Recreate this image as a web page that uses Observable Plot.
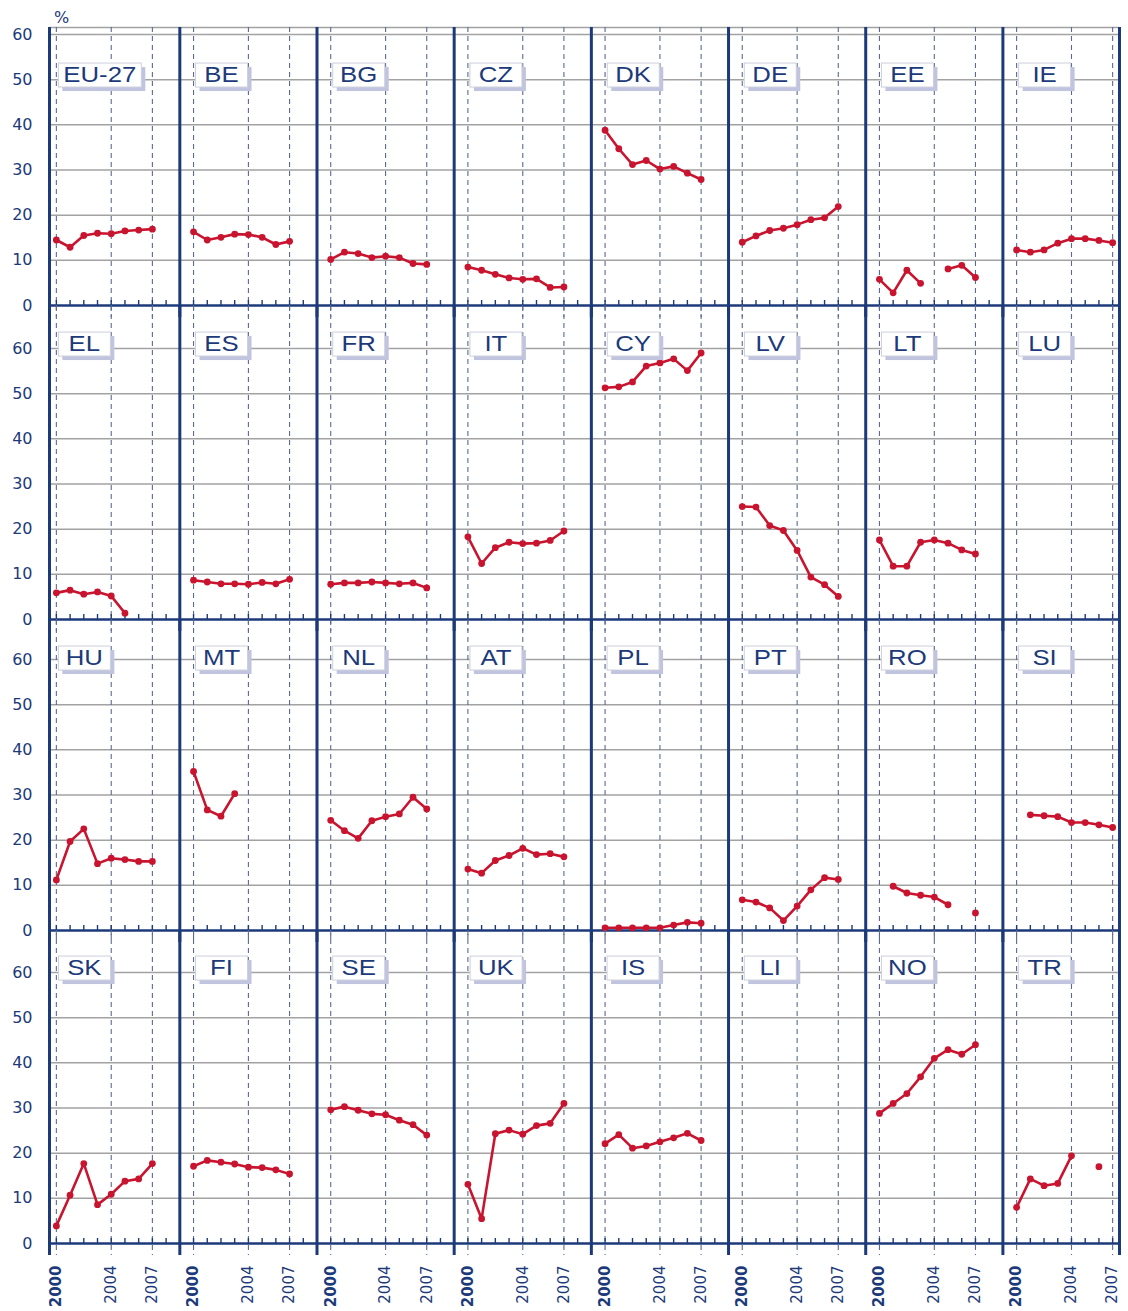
<!DOCTYPE html>
<html>
<head>
<meta charset="utf-8">
<script src="https://cdn.jsdelivr.net/npm/d3@7"></script>
<script src="https://cdn.jsdelivr.net/npm/@observablehq/plot@0.6"></script>
<style>
  html, body { margin: 0; padding: 0; background: #fff; overflow: hidden; }
  #chart { position: relative; width: 1128px; height: 1311px; overflow: hidden; background: #fff; }
  #chart svg { display: block; overflow: visible; background: transparent; }
</style>
</head>
<body>
<div id="chart"></div>
<script>
// ---------------- data ----------------
const years = [2000, 2001, 2002, 2003, 2004, 2005, 2006, 2007];
const axisYears = [2000, 2004, 2007];
const tickYears = [2000, 2001, 2002, 2003, 2004, 2005, 2006, 2007, 2008];
const yTicks = [0, 10, 20, 30, 40, 50, 60];
const gridValues = [10, 20, 30, 40, 50, 60];

const rowCountries = [
  ["EU-27", "BE", "BG", "CZ", "DK", "DE", "EE", "IE"],
  ["EL", "ES", "FR", "IT", "CY", "LV", "LT", "LU"],
  ["HU", "MT", "NL", "AT", "PL", "PT", "RO", "SI"],
  ["SK", "FI", "SE", "UK", "IS", "LI", "NO", "TR"]
];

const EU27 = [14.5, 12.9, 15.5, 16.0, 15.9, 16.5, 16.7, 16.9];
const BE   = [16.3, 14.5, 15.1, 15.8, 15.7, 15.1, 13.5, 14.2];
const BG   = [10.2, 11.8, 11.5, 10.6, 10.9, 10.6, 9.3, 9.1];
const CZ   = [8.5, 7.8, 6.9, 6.1, 5.8, 5.9, 4.0, 4.1];
const DK   = [38.8, 34.7, 31.2, 32.1, 30.2, 30.8, 29.3, 27.9];
const DE   = [14.0, 15.4, 16.6, 17.1, 17.9, 19.0, 19.4, 21.9];
const EE   = [5.8, 2.8, 7.8, 4.9, null, 8.1, 8.9, 6.2];
const IE   = [12.3, 11.8, 12.3, 13.8, 14.8, 14.8, 14.4, 13.9];
const EL   = [5.9, 6.5, 5.6, 6.1, 5.2, 1.4, null, null];
const ES   = [8.7, 8.3, 7.9, 7.9, 7.8, 8.2, 7.9, 8.9];
const FR   = [7.8, 8.1, 8.1, 8.3, 8.1, 7.9, 8.1, 7.0];
const IT   = [18.3, 12.4, 15.9, 17.1, 16.8, 16.9, 17.5, 19.6];
const CY   = [51.3, 51.5, 52.6, 56.1, 56.8, 57.7, 55.1, 59.0];
const LV   = [25.0, 24.9, 20.8, 19.7, 15.3, 9.4, 7.7, 5.1];
const LT   = [17.6, 11.8, 11.8, 17.1, 17.6, 16.9, 15.4, 14.5];
const LU   = [null, null, null, null, null, null, null, null];
const HU   = [11.2, 19.7, 22.5, 14.8, 16.0, 15.7, 15.3, 15.3];
const MT   = [35.2, 26.7, 25.3, 30.3, null, null, null, null];
const NL   = [24.4, 22.1, 20.4, 24.3, 25.2, 25.8, 29.5, 26.9];
const AT   = [13.6, 12.7, 15.5, 16.6, 18.2, 16.8, 17.0, 16.3];
const PL   = [0.6, 0.6, 0.6, 0.6, 0.6, 1.2, 1.8, 1.6];
const PT   = [6.8, 6.3, 5.0, 2.2, 5.4, 9.0, 11.7, 11.3];
const RO   = [null, 9.8, 8.3, 7.8, 7.4, 5.7, null, 3.9];
const SI   = [null, 25.6, 25.4, 25.2, 23.9, 23.9, 23.4, 22.8];
const SK   = [3.9, 10.7, 17.7, 8.6, 10.9, 13.8, 14.3, 17.7];
const FI   = [17.1, 18.4, 18.0, 17.6, 16.9, 16.8, 16.3, 15.4];
const SE   = [29.6, 30.3, 29.5, 28.7, 28.5, 27.3, 26.3, 24.0];
const UK   = [13.1, 5.5, 24.3, 25.1, 24.2, 26.1, 26.6, 31.0];
const IS   = [22.1, 24.1, 21.1, 21.6, 22.5, 23.4, 24.4, 22.8];
const LI   = [null, null, null, null, null, null, null, null];
const NO   = [28.8, 31.0, 33.2, 36.9, 41.0, 42.9, 41.9, 44.0];
const TR   = [8.0, 14.3, 12.8, 13.3, 19.4, null, 17.0, null];

const rowSeries = [
  [EU27, BE, BG, CZ, DK, DE, EE, IE],
  [EL, ES, FR, IT, CY, LV, LT, LU],
  [HU, MT, NL, AT, PL, PT, RO, SI],
  [SK, FI, SE, UK, IS, LI, NO, TR]
];

// ---------------- layout / style ----------------
const navy = "#1c3a7a";
const red = "#c9142f";
const gridGray = "#a2a2a2";
const dashColor = "#5b6a93";
const W = 1128;
const mLeft = 49, mRight = 9;
const pxPerUnit = 4.517;
// each panel spans 10 x-units (one per year, 1999..2009); the outer frame is cropped half a year in
const xDomain = [0.5, 78.5];
const panelX = (panel, year) => panel * 10 + (year - 1999);
const panels = [0, 1, 2, 3, 4, 5, 6, 7];

const rowLayout = [
  {top: 27, bottom: 305, mt: 27, mb: 0, labelDy: 47},
  {top: 305, bottom: 619, mt: 0, mb: 0, labelDy: 38},
  {top: 619, bottom: 930, mt: 0, mb: 0, labelDy: 38},
  {top: 930, bottom: 1243, mt: 0, mb: 68, labelDy: 37}
];

const dashX = panels.flatMap(k => axisYears.map(y => panelX(k, y)));
const tickX = panels.flatMap(k => tickYears.map(y => panelX(k, y))).filter(x => x > xDomain[0] && x < xDomain[1]);
const sepX = [xDomain[0], ...panels.slice(1).map(k => panelX(k, 1999)), xDomain[1]];
const yearLabels = panels.flatMap(k => axisYears.map(y => ({x: panelX(k, y), year: y})));

const chart = document.getElementById("chart");
const countrySet = new Set(rowCountries.flat());

function boxLabels(svg) {
  svg.querySelectorAll("text").forEach(t => {
    if (!countrySet.has(t.textContent)) return;
    const w0 = t.getComputedTextLength();
    const w = w0 * 1.17;
    t.setAttribute("textLength", w);
    t.setAttribute("lengthAdjust", "spacingAndGlyphs");
    const boxW = Math.max(52, w + 10);
    t.setAttribute("dx", 2 + boxW / 2);
    const bb = t.getBBox();
    const cx = bb.x + bb.width / 2;
    const cy = bb.y + bb.height / 2 + 1;
    const tr = t.getAttribute("transform");
    const mk = (dx, dy, fill, stroke) => {
      const r = document.createElementNS("http://www.w3.org/2000/svg", "rect");
      r.setAttribute("x", cx - boxW / 2 + dx);
      r.setAttribute("y", cy - 12 + dy);
      r.setAttribute("width", boxW);
      r.setAttribute("height", 24);
      r.setAttribute("fill", fill);
      if (stroke) { r.setAttribute("stroke", stroke); r.setAttribute("stroke-width", 1); }
      if (tr) r.setAttribute("transform", tr);
      t.parentNode.insertBefore(r, t);
    };
    mk(4, 4, "#c1c4df", null);
    mk(0, 0, "#ffffff", "#cdd0dc");
  });
}

rowCountries.forEach((countries, r) => {
  const L = rowLayout[r];
  const height = L.bottom + L.mb - (L.top - L.mt);
  const yTop = (L.bottom - L.top) / pxPerUnit;
  const data = countries.flatMap((c, k) => rowSeries[r][k].map((v, j) => ({
    country: c, panel: k, year: years[j], value: v, x: panelX(k, years[j])
  })));
  const labels = countries.map((c, k) => ({country: c, x: panelX(k, 2000)}));

  const marks = [
    Plot.ruleY(gridValues, {stroke: gridGray, strokeWidth: 1.5}),
    r === 0 ? Plot.ruleY([yTop], {stroke: gridGray, strokeWidth: 1.5}) : null,
    Plot.ruleX(dashX, {stroke: dashColor, strokeWidth: 1.1, strokeDasharray: "5,4", insetBottom: -12}),
    Plot.ruleX(tickX, {y1: 0, y2: 5 / pxPerUnit, stroke: navy, strokeWidth: 1.4}),
    Plot.ruleY([0], {stroke: navy, strokeWidth: 2.5}),
    Plot.ruleX(sepX, {stroke: navy, strokeWidth: 3, insetBottom: -12}),
    Plot.line(data, {x: "x", y: "value", z: "country", stroke: red, strokeWidth: 2.6, strokeLinejoin: "round"}),
    Plot.dot(data.filter(d => d.value != null), {x: "x", y: "value", r: 3.4, fill: red}),
    Plot.text(labels, {
      x: "x", text: "country", frameAnchor: "top", dy: L.labelDy,
      textAnchor: "middle", lineAnchor: "middle", fill: navy,
      fontSize: 22, fontFamily: "Liberation Sans, Arial, sans-serif"
    })
  ];
  if (r === 0) {
    marks.push(Plot.text(["%"], {text: d => d, frameAnchor: "top-left", dx: 12, dy: -16,
      textAnchor: "middle", fill: navy, fontSize: 16}));
  }
  if (r === rowCountries.length - 1) {
    marks.push(Plot.text(yearLabels.filter(d => d.year === 2000), {
      x: "x", text: d => String(d.year), frameAnchor: "bottom", dy: 22, rotate: -90,
      textAnchor: "end", lineAnchor: "middle", fill: navy, fontSize: 15, fontWeight: "bold"
    }));
    marks.push(Plot.text(yearLabels.filter(d => d.year !== 2000), {
      x: "x", text: d => String(d.year), frameAnchor: "bottom", dy: 22, rotate: -90,
      textAnchor: "end", lineAnchor: "middle", fill: navy, fontSize: 15
    }));
  }

  const svg = Plot.plot({
    width: W,
    height,
    marginLeft: mLeft,
    marginRight: mRight,
    marginTop: L.mt,
    marginBottom: L.mb,
    style: {fontFamily: "DejaVu Sans, sans-serif", fontSize: "16px", color: navy, background: "transparent", overflow: "visible"},
    x: {domain: xDomain, axis: null},
    y: {domain: [0, yTop], ticks: yTicks, tickSize: 0, tickPadding: 17, label: null},
    marks: marks.filter(Boolean)
  });
  chart.appendChild(svg);
  boxLabels(svg);
});
</script>
</body>
</html>
